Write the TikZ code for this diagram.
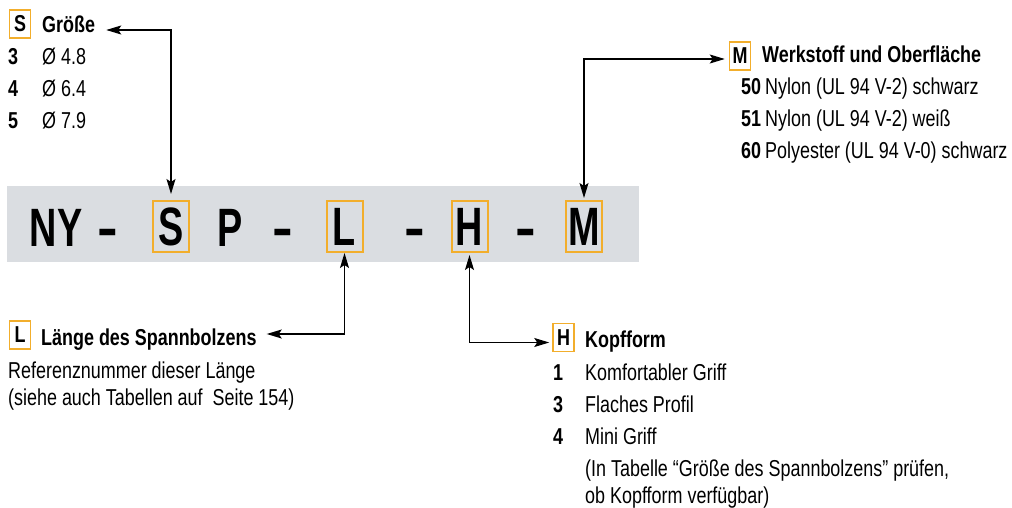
\documentclass[tikz,border=0pt]{standalone}
\usepackage{fontspec}
\setmainfont{Liberation Sans}
\newfontfamily\condfont[FakeStretch=0.78]{Liberation Sans}
\newfontfamily\codefont[FakeStretch=0.70]{Liberation Sans}
\newfontfamily\hyphfont[FakeStretch=1.15]{Liberation Sans}
\usepackage{tikz}
\usetikzlibrary{arrows.meta,positioning}
\definecolor{barfill}{HTML}{DADDE1}
\definecolor{amber}{HTML}{F2AE2C}

\begin{document}
\begin{tikzpicture}[
  x=1pt,y=-1pt,
  txt/.style={anchor=base west,inner sep=0pt,font=\condfont\fontsize{23}{23}\selectfont},
  head/.style={txt,font=\condfont\bfseries\fontsize{23}{23}\selectfont},
  keybox/.style={draw=amber,line width=1.5pt,minimum width=21pt,minimum height=28pt,inner sep=0pt,
    font=\condfont\bfseries\fontsize{23}{23}\selectfont},
  code/.style={inner sep=0pt,font=\codefont\bfseries\fontsize{54}{54}\selectfont},
  hyph/.style={anchor=base,inner sep=0pt,font=\hyphfont\bfseries\fontsize{54}{54}\selectfont},
  codebox/.style={code,draw=amber,line width=2pt,minimum width=36pt,minimum height=51pt},
  arr/.style={{Stealth[length=15pt,width=9pt,inset=3pt]}-{Stealth[length=15pt,width=9pt,inset=3pt]},line width=1.2pt}
]
\useasboundingbox (0,0) rectangle (1012,508);

% code bar
\fill[barfill] (7,186) rectangle (639,262);
\node[code,anchor=base] (ny) at (56,246) {NY};
\node[hyph] (d1) at (108,246) {-};
\node[codebox] (sbox) at (171,226.5) {S};
\node[code,anchor=base] (p) at (230,246) {P};
\node[hyph] (d2) at (283,246) {-};
\node[codebox] (lbox) at (344.5,226.5) {L};
\node[hyph] (d3) at (414.5,246) {-};
\node[codebox] (hbox) at (469.5,226.5) {H};
\node[hyph] (d4) at (526,246) {-};
\node[codebox] (mbox) at (584,226.5) {M};

% S: size
\node[keybox] (skey) at (20,24) {S};
\node[head] (shead) at (42,33) {Größe};
\foreach \n/\d [count=\i] in {3/4.8,4/6.4,5/7.9}{
  \node[head] (snum\i) at (8,33+32*\i) {\n};
  \node[txt] (sval\i) at (42,33+32*\i) {Ø \d};
}

% M: material
\node[keybox] (mkey) at (740,56) {M};
\node[head] (mhead) at (762,63) {Werkstoff und Oberfläche};
\node[head] (mnum1) at (741,95) {50};
\node[txt] (mval1) at (765,95) {Nylon (UL 94 V-2) schwarz};
\node[head] (mnum2) at (741,127) {51};
\node[txt] (mval2) at (765,127) {Nylon (UL 94 V-2) weiß};
\node[head] (mnum3) at (741,158) {60};
\node[txt] (mval3) at (765,158) {Polyester (UL 94 V-0) schwarz};

% L: length
\node[keybox] (lkey) at (20,335) {L};
\node[head] (lhead) at (41,345) {Länge des Spannbolzens};
\node[txt] (ltxt1) at (8,378) {Referenznummer dieser Länge};
\node[txt] (ltxt2) at (8,405) {(siehe auch Tabellen auf \ Seite 154)};

% H: head shape
\node[keybox] (hkey) at (563.5,337.5) {H};
\node[head] (hhead) at (585,347) {Kopfform};
\node[head] (hnum1) at (553,380) {1};
\node[txt] (hval1) at (585,380) {Komfortabler Griff};
\node[head] (hnum2) at (553,412) {3};
\node[txt] (hval2) at (585,412) {Flaches Profil};
\node[head] (hnum3) at (553,444) {4};
\node[txt] (hval3) at (585,444) {Mini Griff};
\node[txt] (hnote1) at (585,476) {(In Tabelle “Größe des Spannbolzens” prüfen,};
\node[txt] (hnote2) at (585,503) {ob Kopfform verfügbar)};

% connectors
\draw[arr] ([xshift=11pt,yshift=3pt]shead.base east) -| ([yshift=6pt]sbox.north);
\draw[arr] ([yshift=2pt]mbox.north) |- ([xshift=-4pt,yshift=-3pt]mkey.west);
\draw[arr] (lbox.south) |- ([xshift=10pt,yshift=11pt]lhead.base east);
\draw[arr] ([yshift=-2pt]hbox.south) |- ([xshift=-3pt,yshift=-5pt]hkey.west);
\end{tikzpicture}
\end{document}
